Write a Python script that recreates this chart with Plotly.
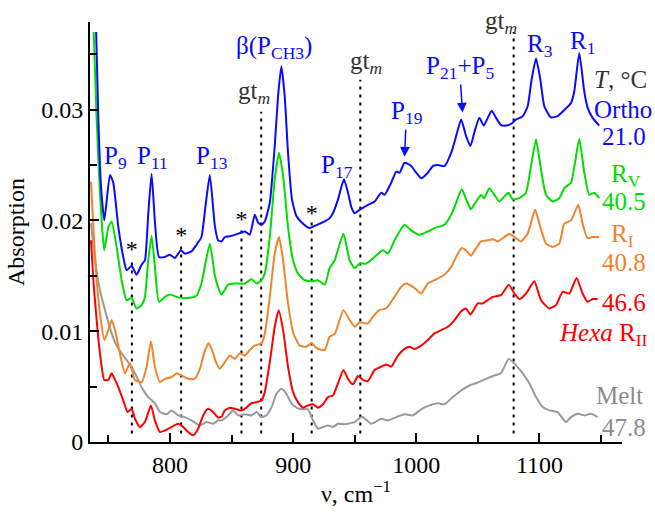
import plotly.graph_objects as go

# ---------------- data (wavenumber, cm-1 ; absorption) ----------------
ortho_x = [740, 741.8, 743.9, 746.6, 751.2, 753.9, 758, 762, 764.7, 768.8, 772.8, 776.9, 779.6, 782.3, 785,
           787.7, 791, 795.8, 799.9, 803.9, 808.8, 812, 817.4, 821.5, 825.5, 828.8, 832.3, 836.4, 839, 841.8,
           844.5, 849.9, 855.3, 860.7, 864.7, 868.8, 871.5, 874.2, 876.9, 881, 885, 887.7, 890.4, 893.1, 895.8,
           899, 902.6, 908, 913.4, 917.4, 921.5, 925.6, 929.6, 932.3, 936.4, 941.2, 944.5, 947.2, 949.9, 953.9,
           960.7, 966.1, 971.5, 974.2, 979.6, 983.7, 986.4, 990.4, 995.8, 999.9, 1003.9, 1009.3, 1013.4, 1017.4,
           1022.8, 1028.3, 1032.3, 1036.4, 1040.4, 1043.9, 1047.5, 1051.2, 1054.7, 1058, 1061.2, 1064.7, 1068.8,
           1072.8, 1076.9, 1080.9, 1086.4, 1090.4, 1093.6, 1097.2, 1100.7, 1103.9, 1109.3, 1114.7, 1120.1,
           1125.6, 1128.2, 1132.3, 1136.4, 1139, 1143.1, 1148.5]
ortho_y = [0.0370, 0.0291, 0.0231, 0.0200, 0.0241, 0.0234, 0.0194, 0.0167, 0.0155, 0.0159, 0.0151, 0.0160,
           0.0164, 0.0206, 0.0242, 0.0199, 0.0167, 0.0167, 0.0169, 0.0166, 0.0173, 0.0170, 0.0172, 0.0178,
           0.0185, 0.0213, 0.0241, 0.0195, 0.0182, 0.0181, 0.0185, 0.0186, 0.0188, 0.0190, 0.0187, 0.0205,
           0.0198, 0.0196, 0.0199, 0.0216, 0.0267, 0.0312, 0.0339, 0.0312, 0.0261, 0.0219, 0.0204, 0.0197,
           0.0193, 0.0195, 0.0197, 0.0199, 0.0202, 0.02065, 0.0219, 0.0237, 0.0225, 0.0212, 0.02065, 0.02095,
           0.0214, 0.0217, 0.0225, 0.0223, 0.0234, 0.0244, 0.0243, 0.0252, 0.0249, 0.0243, 0.0238, 0.0243,
           0.0249, 0.0250, 0.0249, 0.0261, 0.0276, 0.0291, 0.0276, 0.0267, 0.0281, 0.02925, 0.02855, 0.02925,
           0.0299, 0.02925, 0.0286, 0.02855, 0.0287, 0.0291, 0.0294, 0.0303, 0.0327, 0.0346, 0.0327, 0.0303,
           0.0293, 0.0294, 0.02995, 0.0306, 0.0316, 0.0351, 0.0316, 0.0302, 0.02925, 0.02855]

rv_x = [738, 740.4, 743.1, 745, 746.6, 749.9, 752.6, 756.6, 760.7, 764.7, 768.8, 772.8, 776.9, 779.6, 782.3,
        785, 787.7, 791, 795.8, 799.9, 806.6, 814.7, 821.5, 825.5, 832.3, 836.4, 839, 841.8, 847.2, 852.6,
        860.7, 866.1, 870.2, 874.2, 876.9, 881, 885, 888.5, 891.8, 895.8, 899.9, 903.9, 909.3, 914.8, 920.1,
        925.6, 929.6, 933.7, 940.8, 945.8, 949.9, 953.9, 959.3, 966.1, 972.8, 976.9, 982.3, 990.4, 995.8,
        1002.6, 1009.3, 1014.7, 1022.8, 1028.3, 1032.3, 1036.9, 1041.2, 1044.4, 1048.5, 1052.6, 1055, 1059.3,
        1063.4, 1067.4, 1071.5, 1074.7, 1078.2, 1083.6, 1089, 1093.1, 1097.2, 1101.2, 1105.3, 1110.7, 1116.1,
        1120.1, 1125.6, 1128.8, 1132.3, 1136.4, 1140.4, 1144.5, 1148.5]
rv_y = [0.0370, 0.0291, 0.0225, 0.0191, 0.0173, 0.0194, 0.0199, 0.0176, 0.0146, 0.0128, 0.0130, 0.01205,
        0.01235, 0.0131, 0.0164, 0.0186, 0.0158, 0.01265, 0.0131, 0.0133, 0.01305, 0.0130, 0.0132, 0.0143,
        0.0179, 0.0150, 0.0140, 0.0133, 0.0142, 0.0143, 0.0143, 0.0147, 0.0143, 0.0146, 0.0152, 0.0185,
        0.0237, 0.0261, 0.0240, 0.0194, 0.0164, 0.0152, 0.0146, 0.0145, 0.0146, 0.0142, 0.0157, 0.0164,
        0.0188, 0.0164, 0.0157, 0.0161, 0.0161, 0.0167, 0.0173, 0.0170, 0.0182, 0.0196, 0.0191, 0.0187,
        0.0190, 0.0193, 0.0196, 0.0205, 0.0216, 0.0228, 0.0217, 0.0210, 0.0217, 0.0223, 0.0220, 0.0229,
        0.0223, 0.0217, 0.02215, 0.0225, 0.0219, 0.0220, 0.0225, 0.0249, 0.0273, 0.0246, 0.0223, 0.0217,
        0.0220, 0.0229, 0.0234, 0.0252, 0.02735, 0.0243, 0.0223, 0.0225, 0.0220]

ri_x = [735.8, 737.7, 740.4, 743.1, 746.6, 749.9, 752.6, 755.3, 759.3, 763.4, 767.4, 771.5, 776.9, 781,
        784.5, 787.7, 791.8, 795.8, 801.2, 805.3, 809.3, 814.7, 820.1, 824.2, 828.2, 831.5, 835, 837, 840.4,
        844.5, 848.5, 852.6, 856.6, 860.7, 864.7, 868.8, 874.2, 876.9, 881, 885, 888.5, 891.8, 895.8, 899.9,
        905.3, 910.7, 914.8, 920.1, 925.6, 929.6, 933.7, 940.8, 945.8, 949.9, 953.9, 960.7, 964.7, 970.1,
        975.5, 982.3, 987.7, 991.8, 998.5, 1003.9, 1009.3, 1014.7, 1022.8, 1028.3, 1032.3, 1036.9, 1041.2,
        1044.4, 1048.5, 1052.6, 1058, 1062, 1066.1, 1071.5, 1075.5, 1079.6, 1085, 1090.4, 1096.4, 1100.7,
        1105.3, 1110.7, 1116.1, 1120.1, 1125.6, 1131.5, 1135, 1139, 1143.1, 1148.5]
ri_y = [0.0235, 0.0194, 0.0146, 0.0116, 0.0092, 0.0101, 0.0110, 0.0101, 0.0080, 0.0062, 0.0071, 0.0056,
        0.0054, 0.0068, 0.0091, 0.0068, 0.0054, 0.0057, 0.00585, 0.0062, 0.0060, 0.0057, 0.0057, 0.0066,
        0.0082, 0.0089, 0.0080, 0.0073, 0.0066, 0.0072, 0.0078, 0.0075, 0.0080, 0.0078, 0.0083, 0.0087,
        0.0089, 0.00975, 0.0131, 0.0170, 0.0185, 0.0164, 0.0125, 0.0099, 0.0087, 0.0086, 0.0089, 0.0084,
        0.0083, 0.0095, 0.00975, 0.0119, 0.0110, 0.0104, 0.0108, 0.0107, 0.0113, 0.0119, 0.01205, 0.0131,
        0.0140, 0.0143, 0.0139, 0.0134, 0.0143, 0.0146, 0.0151, 0.0158, 0.0167, 0.0175, 0.0172, 0.0168,
        0.0175, 0.0181, 0.0182, 0.0183, 0.0181, 0.0185, 0.0188, 0.0185, 0.0181, 0.0188, 0.02095, 0.0194,
        0.0179, 0.0176, 0.0179, 0.0197, 0.0200, 0.0214, 0.0197, 0.0184, 0.0185, 0.0185]

rii_x = [735.8, 737.7, 740.4, 743.1, 746.6, 749.9, 752.6, 755.3, 758, 762, 765.5, 768.8, 771.5, 775.5, 779.6,
         784.5, 787.7, 791.8, 795.8, 801.2, 806.6, 810.7, 814.7, 818.8, 822.8, 826.9, 830.9, 835, 839, 842,
         844.5, 848.5, 852.6, 858, 862, 866.1, 870.2, 874.2, 876.9, 881, 885, 888.2, 891.8, 895.8, 899.9,
         903.9, 908, 912, 916.1, 920.1, 924.2, 928.2, 932.3, 936.4, 940.8, 945, 948.5, 952.6, 956.6, 960.7,
         966.1, 971.5, 975.5, 979.6, 985, 990.4, 994.5, 998.5, 1003.9, 1009.3, 1014.7, 1020.2, 1025.6, 1031,
         1036.4, 1040.4, 1043.9, 1049.9, 1053.9, 1062, 1068.8, 1075, 1079.6, 1083.6, 1089.1, 1095.8, 1101.2,
         1108, 1113.4, 1118.8, 1124.2, 1130.1, 1135, 1139.1, 1143.1, 1147.2]
rii_y = [0.0182, 0.0146, 0.0110, 0.0080, 0.0056, 0.0056, 0.0062, 0.0056, 0.00495, 0.00375, 0.0027, 0.0030,
         0.0021, 0.00135, 0.0018, 0.0033, 0.00195, 0.0009, 0.00104, 0.00135, 0.00165, 0.00135, 0.0009,
         0.0006, 0.0012, 0.0024, 0.0030, 0.0027, 0.0022, 0.0023, 0.00285, 0.0031, 0.0030, 0.00285, 0.0031,
         0.0035, 0.0036, 0.00375, 0.0045, 0.0072, 0.0104, 0.0119, 0.0101, 0.0068, 0.0045, 0.0036, 0.0031,
         0.0033, 0.0034, 0.0031, 0.0034, 0.00405, 0.0042, 0.0053, 0.0065, 0.0056, 0.0052, 0.00595, 0.0056,
         0.0055, 0.0065, 0.0068, 0.0070, 0.0068, 0.0078, 0.0084, 0.0086, 0.0084, 0.0087, 0.0092, 0.0098,
         0.0101, 0.0104, 0.0110, 0.0118, 0.01205, 0.0115, 0.0125, 0.0125, 0.0131, 0.01325, 0.0142, 0.0134,
         0.0129, 0.0134, 0.0145, 0.0128, 0.01205, 0.01235, 0.01355, 0.0134, 0.0148, 0.0134, 0.01265, 0.0129,
         0.0129]

melt_x = [735.8, 739, 743.1, 747.2, 752.6, 756.6, 760.7, 766.1, 771.5, 776.9, 782.3, 787.7, 791.8, 797.2,
          801.2, 806.6, 812, 817.4, 824.2, 829.6, 835, 839, 841.8, 847.2, 851.2, 855.3, 860.7, 866.1, 870.2,
          874.2, 878.3, 882.3, 886.4, 890.4, 894.5, 898.5, 902.6, 906.6, 912, 916.1, 920.1, 924.2, 928.2,
          932.3, 936.4, 941.8, 949.9, 954.5, 956.6, 963.4, 971.5, 976.9, 983.7, 990.4, 997.2, 1003.9, 1010.7,
          1017.4, 1022.8, 1029.6, 1036.4, 1043.1, 1048.5, 1056.6, 1063.4, 1068.8, 1071.5, 1075, 1079.6, 1086.4,
          1091.8, 1097.2, 1102.6, 1108, 1114.7, 1121.5, 1125.6, 1131, 1136.4, 1141.8, 1147.2]
melt_y = [0.01975, 0.0164, 0.0137, 0.0119, 0.0098, 0.0087, 0.0080, 0.0072, 0.0062, 0.00495, 0.00405, 0.0035,
          0.0027, 0.0025, 0.00285, 0.0024, 0.00225, 0.00195, 0.0015, 0.0018, 0.00165, 0.00195, 0.00195,
          0.0024, 0.00285, 0.0024, 0.0025, 0.0024, 0.0027, 0.00225, 0.0024, 0.0031, 0.00435, 0.0048, 0.00435,
          0.0035, 0.0031, 0.00295, 0.00295, 0.00195, 0.0012, 0.00135, 0.0015, 0.00135, 0.00165, 0.0016,
          0.0018, 0.0022, 0.00225, 0.00165, 0.0021, 0.00195, 0.00225, 0.0025, 0.0024, 0.00295, 0.0033,
          0.0035, 0.0034, 0.00405, 0.00465, 0.0051, 0.0053, 0.0057, 0.0060, 0.0062, 0.0068, 0.0075, 0.00707,
          0.0062, 0.00527, 0.00406, 0.00315, 0.00285, 0.0027, 0.0018, 0.00225, 0.00255, 0.0024, 0.00255,
          0.00225]

# guide (dotted) lines: position and top end
guide_x = [769, 809, 858, 874, 915, 954.5, 1079]
guide_top = [0.0166, 0.0178, 0.0193, 0.0298, 0.0199, 0.0327, 0.0370]
guide_bottom = 0.00077
star_x = [769, 809, 858, 915]
star_y = [0.0172, 0.0185, 0.0199, 0.0205]

BLUE = "#0a0aff"
GREEN = "#00dd00"
ORANGE = "#f0842c"
RED = "#ff0000"
GRAY = "#999999"
DARK = "#333333"
FONT = "Liberation Serif"

fig = go.Figure()

for gx, gt in zip(guide_x, guide_top):
    fig.add_trace(go.Scatter(x=[gx, gx], y=[guide_bottom, gt], mode="lines",
                             line=dict(color="black", width=2, dash="3px,5px"),
                             hoverinfo="skip", showlegend=False))

series = [
    (melt_x, melt_y, GRAY, "Melt 47.8"),
    (rii_x, rii_y, RED, "Hexa RII 46.6"),
    (ri_x, ri_y, ORANGE, "RI 40.8"),
    (rv_x, rv_y, GREEN, "RV 40.5"),
    (ortho_x, ortho_y, BLUE, "Ortho 21.0"),
]
for sx, sy, col, name in series:
    fig.add_trace(go.Scatter(x=sx, y=sy, mode="lines", name=name,
                             line=dict(color=col, width=2, shape="spline", smoothing=0.5),
                             showlegend=False))

fig.add_trace(go.Scatter(x=star_x, y=star_y, mode="text", text=["*"] * len(star_x),
                         textfont=dict(family=FONT, size=24, color="black"),
                         textposition="middle center", showlegend=False, hoverinfo="skip"))

ann = []


def add(text, x, y, color, xanchor="center", size=25, xref="x", yref="y"):
    ann.append(dict(text=text, x=x, y=y, xref=xref, yref=yref, showarrow=False,
                    xanchor=xanchor, yanchor="middle",
                    font=dict(family=FONT, size=size, color=color)))


add("P<sub>9</sub>", 755.3, 0.02566, BLUE)
add("P<sub>11</sub>", 786.1, 0.02566, BLUE)
add("P<sub>13</sub>", 833.9, 0.02566, BLUE)
add("β(P<sub>CH3</sub>)", 884.2, 0.03561, BLUE)
add("P<sub>17</sub>", 935.3, 0.02484, BLUE)
add("R<sub>3</sub>", 1100.7, 0.03579, BLUE)
add("R<sub>1</sub>", 1134.7, 0.03606, BLUE)
add("gt<sub><i>m</i></sub>", 868, 0.03154, DARK)
add("gt<sub><i>m</i></sub>", 958.8, 0.03425, DARK)
add("gt<sub><i>m</i></sub>", 1069.1, 0.999, DARK, yref="paper")

# arrows
ann.append(dict(text="P<sub>19</sub>", x=990.4, y=0.02575, xref="x", yref="y",
                showarrow=True, ax=2, ay=-44, arrowhead=2, arrowsize=1.3, arrowwidth=1.5,
                arrowcolor=BLUE, font=dict(family=FONT, size=25, color=BLUE)))
ann.append(dict(text="P<sub>21</sub>+P<sub>5</sub>", x=1037.5, y=0.02973, xref="x", yref="y",
                showarrow=True, ax=-3, ay=-45, arrowhead=2, arrowsize=1.3, arrowwidth=1.5,
                arrowcolor=BLUE, font=dict(family=FONT, size=25, color=BLUE)))

# right-side labels (numbers right-aligned in the margin, paper x)
RIGHT = 1.049
add("<i>T</i>, °C", 1142.8, 0.03271, DARK, "left")
add("Ortho", 1142.8, 0.03000, BLUE, "left")
add("21.0", RIGHT, 0.02756, BLUE, "right", xref="paper")
add("R<sub>V</sub>", 1156.6, 0.02405, GREEN, "left")
add("40.5", RIGHT, 0.02166, GREEN, "right", xref="paper")
add("R<sub>I</sub>", 1156.6, 0.01862, ORANGE, "left")
add("40.8", RIGHT, 0.01623, ORANGE, "right", xref="paper")
add("46.6", RIGHT, 0.01262, RED, "right", xref="paper")
add("<i>Hexa</i> R<sub>II</sub>", 1114.5, 0.00973, RED, "left")
add("Melt", 1144.5, 0.00421, "#8c8c8c", "left")
add("47.8", RIGHT, 0.00131, "#8c8c8c", "right", xref="paper")

fig.update_layout(
    width=655, height=512,
    margin=dict(l=90, r=33, t=22, b=70, autoexpand=False),
    paper_bgcolor="white", plot_bgcolor="white",
    font=dict(family=FONT, size=24, color="black"),
    annotations=ann,
    xaxis=dict(range=[735, 1167], showgrid=False, zeroline=False, automargin=False,
               showline=True, linecolor="black", linewidth=2,
               ticks="inside", ticklen=9, tickwidth=1.5, tickcolor="black",
               tickvals=[800, 900, 1000, 1100],
               minor=dict(tickvals=[750, 850, 950, 1050, 1150], ticks="inside",
                          ticklen=7, tickwidth=1.5, tickcolor="black"),
               tickfont=dict(family=FONT, size=24, color="black"),
               title=dict(text="ν, cm<sup>−1</sup>", font=dict(family=FONT, size=24),
                          standoff=8)),
    yaxis=dict(range=[0, 0.0379], showgrid=False, zeroline=False, automargin=False,
               showline=True, linecolor="black", linewidth=2,
               ticks="inside", ticklen=9, tickwidth=1.5, tickcolor="black",
               tickvals=[0, 0.01, 0.02, 0.03], ticktext=["0", "0.01", "0.02", "0.03"],
               minor=dict(tickvals=[0.005, 0.015, 0.025, 0.035], ticks="inside",
                          ticklen=7, tickwidth=1.5, tickcolor="black"),
               tickfont=dict(family=FONT, size=24, color="black"),
               title=dict(text="Absorption", font=dict(family=FONT, size=24),
                          standoff=10)),
)

fig.write_html("out.html", config={"displayModeBar": False},
               post_script="document.body.style.margin='0';document.body.style.padding='0';")
